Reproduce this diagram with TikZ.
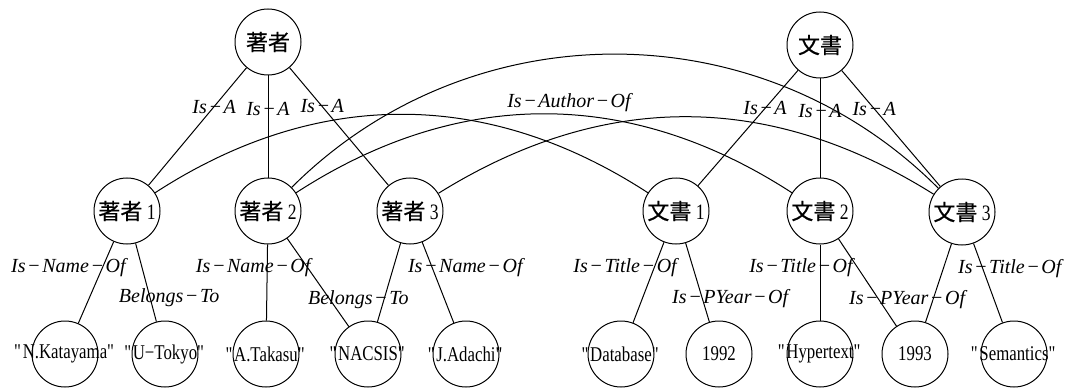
\documentclass[tikz,border=0pt]{standalone}
\usepackage{fontspec}
\setmainfont[FakeStretch=0.8]{Liberation Serif}
\newfontfamily\relfont{Liberation Serif}
\newfontfamily\cjk[FakeBold=0.5]{Noto Sans CJK JP}
\newcommand{\md}{\kern.08em−\kern.08em}
\newcommand{\qt}[1]{\textquotedbl#1\textquotedbl}

\begin{document}
\begin{tikzpicture}[x=0.5pt, y=-0.5pt, line width=0.5pt,
	ent/.style={circle, draw, minimum size=33pt, inner sep=0pt, font=\fontsize{11}{13}\selectfont},
	val/.style={circle, draw, minimum size=33pt, inner sep=0pt, font=\fontsize{10.5}{13}\selectfont},
	rel/.style={font=\fontsize{10}{12}\selectfont\relfont\itshape, inner sep=1pt}]
	\useasboundingbox (0,0) rectangle (1092,390);

	\node[ent] (A) at (268,42) {\cjk 著者};
	\node[ent] (D) at (820,45) {\cjk 文書};

	\node[ent] (A1) at (127,211) {{\cjk 著者} 1};
	\node[ent] (A2) at (268,211) {{\cjk 著者} 2};
	\node[ent] (A3) at (410,211) {{\cjk 著者} 3};
	\node[ent] (D1) at (676,211) {{\cjk 文書} 1};
	\node[ent] (D2) at (820,211) {{\cjk 文書} 2};
	\node[ent] (D3) at (962,212) {{\cjk 文書} 3};

	\node[val] (NK) at (65,354) {\makebox[0pt]{\qt{N.Katayama}}};
	\node[val] (UT) at (165,354) {\makebox[0pt]{\qt{U−Tokyo}}};
	\node[val] (AT) at (266,354) {\makebox[0pt]{\qt{A.Takasu}}};
	\node[val] (NC) at (368,354) {\makebox[0pt]{\qt{NACSIS}}};
	\node[val] (JA) at (466,354) {\makebox[0pt]{\qt{J.Adachi}}};
	\node[val] (DB) at (621,354) {\makebox[0pt]{\qt{Database}}};
	\node[val] (Y92) at (719,354) {\makebox[0pt]{1992}};
	\node[val] (HT) at (820,354) {\makebox[0pt]{\qt{Hypertext}}};
	\node[val] (Y93) at (915,354) {\makebox[0pt]{1993}};
	\node[val] (SE) at (1014,354) {\makebox[0pt]{\qt{Semantics}}};

	\draw (A) -- node[rel, pos=.33] {Is\md A} (A1);
	\draw (A) -- node[rel, pos=.33] {Is\md A} (A2);
	\draw (A) -- node[rel, pos=.33] {Is\md A} (A3);
	\draw (D) -- node[rel, pos=.33] {Is\md A} (D1);
	\draw (D) -- node[rel, pos=.33] {Is\md A} (D2);
	\draw (D) -- node[rel, pos=.33] {Is\md A} (D3);

	\draw (A1) to[bend left=33] (D1);
	\draw (A2) to[bend left=33] node[rel, above, pos=.55] {Is\md Author\md Of} (D2);
	\draw (A2) to[bend left=45] (D3);
	\draw (A3) to[bend left=32] (D3);

	\draw (A1) -- node[rel, pos=.32, xshift=-17pt] {Is\md Name\md Of} (NK);
	\draw (A1) -- node[rel, pos=.70, xshift=9.5pt] {Belongs\md To} (UT);
	\draw (A2) -- node[rel, pos=.30, xshift=-7pt] {Is\md Name\md Of} (AT);
	\draw (A2) -- node[rel, pos=.70, xshift=14pt] {Belongs\md To} (NC);
	\draw (A3) -- (NC);
	\draw (A3) -- node[rel, pos=.32, xshift=16.5pt] {Is\md Name\md Of} (JA);

	\draw (D1) -- node[rel, pos=.32, xshift=-14.5pt] {Is\md Title\md Of} (DB);
	\draw (D1) -- node[rel, pos=.70, xshift=14pt] {Is\md PYear\md Of} (Y92);
	\draw (D2) -- node[rel, pos=.30, xshift=-9.5pt] {Is\md Title\md Of} (HT);
	\draw (D2) -- node[rel, pos=.70, xshift=14pt] {Is\md PYear\md Of} (Y93);
	\draw (D3) -- (Y93);
	\draw (D3) -- node[rel, pos=.32, xshift=13.5pt] {Is\md Title\md Of} (SE);
\end{tikzpicture}
\end{document}
